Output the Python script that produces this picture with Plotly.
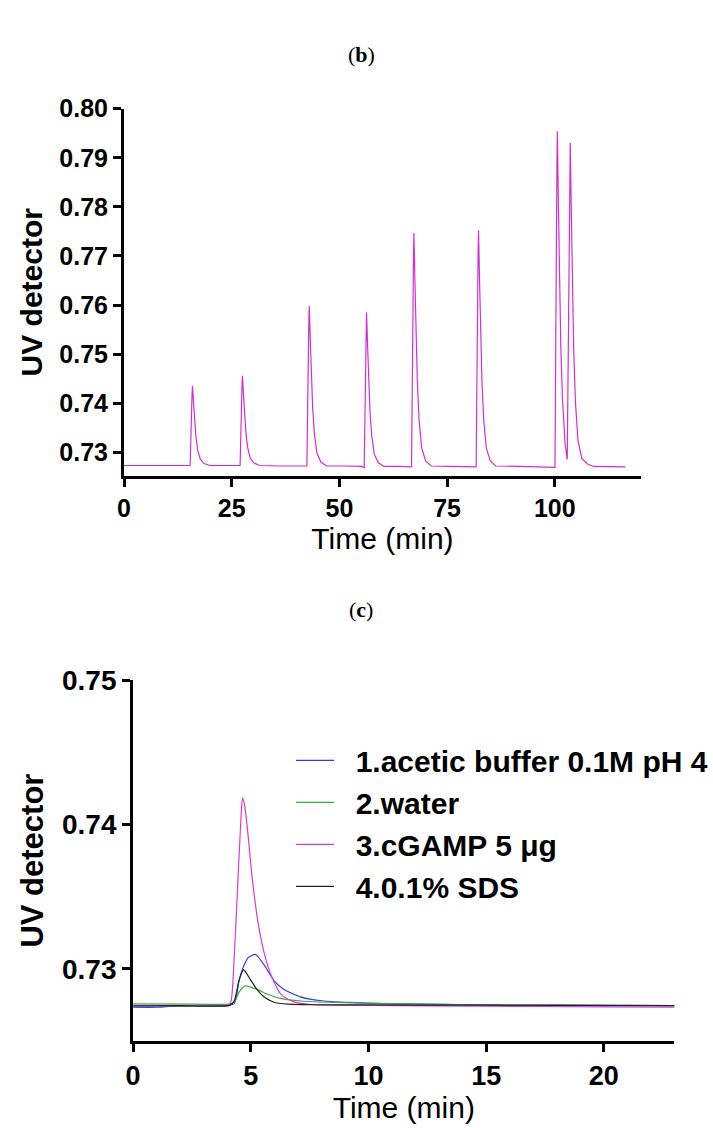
import plotly.graph_objects as go

# ---------------- Panel (b) data: full chromatogram ----------------
time_b = [0, 5, 10, 15.35,
          15.8, 15.9, 16.15, 16.4, 16.7, 17.1, 17.7, 18.6, 19.9,
          24.0, 26.95,
          27.4, 27.5, 27.75, 28.0, 28.3, 28.7, 29.3, 30.2, 31.5,
          36.0, 42.45,
          42.9, 43.0, 43.25, 43.5, 43.8, 44.2, 44.8, 45.7, 47.0,
          51.0, 55.2, 55.75,
          56.2, 56.3, 56.55, 56.8, 57.1, 57.5, 58.1, 59.0, 60.3,
          64.0, 66.75,
          67.2, 67.3, 67.55, 67.8, 68.1, 68.5, 69.1, 70.0, 71.3,
          76.0, 81.75,
          82.2, 82.3, 82.55, 82.8, 83.1, 83.5, 84.1, 85.0, 86.3,
          92.0, 97.0, 100.05,
          100.5, 100.6, 100.85, 101.1, 101.4, 101.8, 102.4, 102.9,
          103.5, 103.6, 103.85, 104.1, 104.4, 104.8, 105.4, 106.3, 107.6, 109.0,
          113.0, 116.4]
uv_b = [0.7273, 0.7273, 0.7273, 0.7273,
        0.7420, 0.7435, 0.7399, 0.7362, 0.7331, 0.7305, 0.7286, 0.7277, 0.7273,
        0.7273, 0.7273,
        0.7438, 0.7456, 0.7416, 0.7374, 0.7339, 0.7310, 0.7288, 0.7278, 0.7273,
        0.7272, 0.7272,
        0.7565, 0.7598, 0.7526, 0.7451, 0.7389, 0.7337, 0.7298, 0.7280, 0.7272,
        0.7272, 0.7271, 0.7268,
        0.7553, 0.7585, 0.7516, 0.7444, 0.7384, 0.7334, 0.7296, 0.7279, 0.7271,
        0.7271, 0.7270,
        0.7699, 0.7747, 0.7642, 0.7533, 0.7442, 0.7366, 0.7309, 0.7283, 0.7272,
        0.7271, 0.7270,
        0.7704, 0.7752, 0.7646, 0.7536, 0.7444, 0.7367, 0.7309, 0.7283, 0.7272,
        0.7271, 0.7270, 0.7269,
        0.7886, 0.7954, 0.7804, 0.7646, 0.7516, 0.7407, 0.7318, 0.7285,
        0.7865, 0.7930, 0.7785, 0.7633, 0.7508, 0.7402, 0.7323, 0.7287, 0.7276, 0.7271,
        0.7270, 0.7270]

xticks_b = [0, 25, 50, 75, 100]
yticks_b = [0.73, 0.74, 0.75, 0.76, 0.77, 0.78, 0.79, 0.80]

# ---------------- Panel (c) data: four injections ----------------
series_names = ["1.acetic buffer 0.1M pH 4", "2.water", "3.cGAMP 5 \u03bcg", "4.0.1% SDS"]
series_colors = ["#2B3BF5", "#3AAA3A", "#D63CD6", "#222222"]

t_acetic = [0, 1.0, 1.5, 2.0, 3.0, 4.0, 4.3, 4.5, 4.7, 4.9, 5.2, 5.6, 6.0, 6.4, 7.1, 8.1, 9.2, 10.6, 13, 16, 20, 23]
v_acetic = [0.72735, 0.72735, 0.72740, 0.72742, 0.72745, 0.72748, 0.72760, 0.72920, 0.73020, 0.73080,
            0.73100, 0.73020, 0.72916, 0.72860, 0.72807, 0.72778, 0.72768, 0.72760, 0.72755, 0.72750,
            0.72748, 0.72746]

t_water = [0, 2, 4.1, 4.3, 4.5, 4.76, 5.25, 5.74, 6.3, 7.14, 8.54, 11, 15, 20, 23]
v_water = [0.72758, 0.72757, 0.72757, 0.72770, 0.72840, 0.72883, 0.72860, 0.72823, 0.72794, 0.72778,
           0.72768, 0.72760, 0.72752, 0.72748, 0.72746]

t_cgamp = [0, 2, 4.0, 4.15, 4.3, 4.45, 4.6, 4.65, 4.75, 4.9, 5.04, 5.32, 5.6, 5.88, 6.3, 6.86, 7.84, 10, 15, 20, 23]
v_cgamp = [0.72745, 0.72745, 0.72748, 0.72770, 0.73100, 0.73600, 0.74100, 0.74185, 0.74120, 0.73900,
           0.73660, 0.73310, 0.73090, 0.72950, 0.72820, 0.72770, 0.72751, 0.72748, 0.72742, 0.72738, 0.72735]

t_sds = [0, 2, 4.1, 4.3, 4.5, 4.69, 4.97, 5.25, 5.6, 6.02, 6.58, 8, 12, 18, 23]
v_sds = [0.72745, 0.72746, 0.72748, 0.72780, 0.72920, 0.72995, 0.72930, 0.72860, 0.72802, 0.72768,
         0.72757, 0.72752, 0.72750, 0.72748, 0.72746]

xticks_c = [0, 5, 10, 15, 20]
yticks_c = [0.73, 0.74, 0.75]

# ---------------- Figure ----------------
W, H = 713, 1128
FONT = "Liberation Sans, Arial, sans-serif"
SERIF = "Liberation Serif, Times New Roman, serif"

fig = go.Figure()
fig.add_trace(go.Scatter(x=time_b, y=uv_b, mode="lines", line=dict(color="#D22ED2", width=1.2),
                         showlegend=False, xaxis="x", yaxis="y"))

series_t = [t_acetic, t_water, t_cgamp, t_sds]
series_v = [v_acetic, v_water, v_cgamp, v_sds]
for name, col, tt, vv in zip(series_names, series_colors, series_t, series_v):
    fig.add_trace(go.Scatter(x=tt, y=vv, mode="lines", name="\u00a0\u00a0" + name,
                             line=dict(color=col, width=1.2, shape="spline", smoothing=0.6),
                             xaxis="x2", yaxis="y2"))

axis_common = dict(showline=True, linewidth=3, linecolor="black", ticks="outside", ticklen=8,
                   tickwidth=3, tickcolor="black", showgrid=False, zeroline=False, mirror=False)


def px_x(p):
    return p / W


def px_y(p):
    return 1 - p / H


fig.update_layout(
    width=W, height=H, margin=dict(l=0, r=0, t=0, b=0),
    paper_bgcolor="white", plot_bgcolor="white",
    showlegend=True,
    xaxis=dict(domain=[px_x(117.5), px_x(641)], range=[0, 120], tickvals=xticks_b,
               tickfont=dict(family=FONT, size=25, color="black", weight="bold"),
               title=dict(text="Time (min)", font=dict(family=FONT, size=30, color="black"), standoff=3),
               anchor="y", **axis_common),
    yaxis=dict(domain=[px_y(467), px_y(95)], range=[0.7252, 0.80], tickvals=yticks_b, tickformat=".2f",
               tickfont=dict(family=FONT, size=25, color="black", weight="bold"),
               title=dict(text="UV detector", font=dict(family=FONT, size=30, color="black", weight="bold"),
                          standoff=8),
               anchor="x", **axis_common),
    xaxis2=dict(domain=[px_x(126.7), px_x(675)], range=[0, 23], tickvals=xticks_c,
                tickfont=dict(family=FONT, size=27, color="black", weight="bold"),
                title=dict(text="Time (min)", font=dict(family=FONT, size=30, color="black"), standoff=4),
                anchor="y2", **axis_common),
    yaxis2=dict(domain=[px_y(1040), px_y(674)], range=[0.725, 0.75], tickvals=yticks_c, tickformat=".2f",
                tickfont=dict(family=FONT, size=28, color="black", weight="bold"),
                title=dict(text="UV detector", font=dict(family=FONT, size=31, color="black", weight="bold"),
                           standoff=10),
                anchor="x2", **axis_common),
    legend=dict(x=px_x(287), y=px_y(729), xanchor="left", yanchor="top",
                font=dict(family=FONT, size=30, color="black", weight="bold"),
                bgcolor="rgba(0,0,0,0)", borderwidth=0, tracegroupgap=0, itemwidth=38),
    annotations=[
        dict(text="(<b>b</b>)", x=px_x(358), y=px_y(40), xref="paper", yref="paper", showarrow=False,
             xanchor="center", yanchor="middle",
             font=dict(family=SERIF, size=22, color="black")),
        dict(text="(<b>c</b>)", x=px_x(358), y=px_y(603), xref="paper", yref="paper", showarrow=False,
             xanchor="center", yanchor="middle",
             font=dict(family=SERIF, size=22, color="black")),
    ],
)

fig.write_html("out.html", config={"displayModeBar": False},
               post_script="document.body.style.margin='0px';")
